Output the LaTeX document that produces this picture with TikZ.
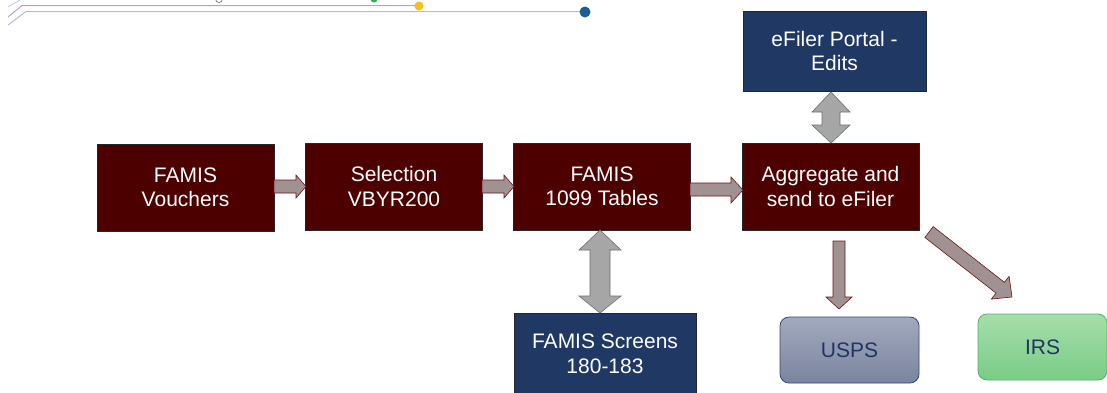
\documentclass[tikz,border=0pt]{standalone}
\usepackage{fontspec}
\setmainfont{Liberation Sans}
\definecolor{maroonbox}{RGB}{77,0,0}
\definecolor{navybox}{RGB}{31,56,100}
\definecolor{arrowfill}{RGB}{160,146,146}
\definecolor{arrowedge}{RGB}{110,20,20}
\definecolor{grayfill}{RGB}{166,166,166}
\definecolor{grayedge}{RGB}{110,110,110}
\definecolor{uspstop}{RGB}{162,170,190}
\definecolor{uspsbot}{RGB}{122,132,158}
\definecolor{uspsedge}{RGB}{50,72,122}
\definecolor{irstop}{RGB}{165,222,170}
\definecolor{irsbot}{RGB}{122,204,134}
\definecolor{irsedge}{RGB}{80,180,100}
\definecolor{darktext}{RGB}{34,52,100}
\definecolor{purpleline}{RGB}{180,160,210}
\definecolor{blueline}{RGB}{170,192,212}
\definecolor{dotyellow}{RGB}{250,190,20}
\definecolor{dotblue}{RGB}{25,95,150}
\definecolor{dotgreen}{RGB}{40,180,80}
\begin{document}
\begin{tikzpicture}[x=1pt,y=-1pt,
  txt/.style={font=\fontsize{21}{24.5}\selectfont, align=center, inner sep=0pt},
  mbox/.style={txt, fill=maroonbox, draw=black!85, line width=0.6pt, text=white, minimum width=177pt, minimum height=87pt},
  nbox/.style={txt, fill=navybox, draw=black!85, line width=0.6pt, text=white},
  rbox/.style={txt, rounded corners=9pt, line width=0.8pt, text=darktext},
  blockarrow/.style={fill=arrowfill, draw=arrowedge, line width=0.6pt, line join=miter},
  grayarrow/.style={fill=grayfill, draw=grayedge, line width=0.6pt, line join=miter}]
\useasboundingbox (0,0) rectangle (1107,392);

% top decoration
\draw[gray!50, line width=0.7pt] (8,7) -- (20,0);
\draw[purpleline, line width=1pt] (8,17) -- (22,5.5) -- (419,5.5);
\draw[blueline, line width=1pt] (8,25) -- (26,11.5) -- (585,11.5);
\draw[black!60, line width=0.6pt] (219,-1) circle (3.5);
\fill[dotgreen] (374,-1) circle (3.5);
\fill[dotyellow] (419,6) circle (4.5);
\fill[dotblue] (585,12) circle (5.5);

% boxes
\node[mbox] (vouch) at (185.5,187.5) {FAMIS\\Vouchers};
\node[mbox] (sel) at (394,186.5) {Selection\\VBYR200};
\node[mbox] (tab) at (602,186.5) {FAMIS\\1099 Tables};
\node[mbox] (agg) at (830.5,186.5) {Aggregate and\\send to eFiler};
\node[nbox, minimum width=183pt, minimum height=80pt] (efp) at (834.5,51) {eFiler Portal -\\Edits};
\node[nbox, minimum width=182pt, minimum height=82pt] (scr) at (605,354) {FAMIS Screens\\180-183};
\node[rbox, shading=axis, top color=uspstop, bottom color=uspsbot, draw=uspsedge, minimum width=139pt, minimum height=66pt] (usps) at (849.5,350) {USPS};
\node[rbox, shading=axis, top color=irstop, bottom color=irsbot, draw=irsedge, minimum width=129pt, minimum height=66pt] (irs) at (1042.5,347) {IRS};

% single block arrows
\draw[blockarrow] (274,180) -- (296,180) -- (296,175) -- (306,186.5) -- (296,198) -- (296,193) -- (274,193) -- cycle;
\draw[blockarrow] (482,180) -- (504,180) -- (504,175) -- (514,186.5) -- (504,198) -- (504,193) -- (482,193) -- cycle;
\draw[blockarrow] (690,183) -- (731,183) -- (731,177) -- (743,190) -- (731,203) -- (731,196) -- (690,196) -- cycle;
\draw[blockarrow] (833,241) -- (845,241) -- (845,297) -- (852,297) -- (839,309) -- (826,297) -- (833,297) -- cycle;
\draw[blockarrow] (924.8,237.4) -- (933.2,226.6) -- (1004.4,282.3) -- (1009.1,276.3) -- (1012,297) -- (991.3,299.1) -- (996.0,293.1) -- cycle;

% double block arrows
\draw[grayarrow] (600,230) -- (621,250) -- (610,250) -- (610,296) -- (621,296) -- (600,313) -- (579,296) -- (590,296) -- (590,250) -- (579,250) -- cycle;
\draw[grayarrow] (831,92) -- (850,112) -- (840,112) -- (840,125) -- (850,125) -- (831,143) -- (812,125) -- (822,125) -- (822,112) -- (812,112) -- cycle;
\end{tikzpicture}
\end{document}
